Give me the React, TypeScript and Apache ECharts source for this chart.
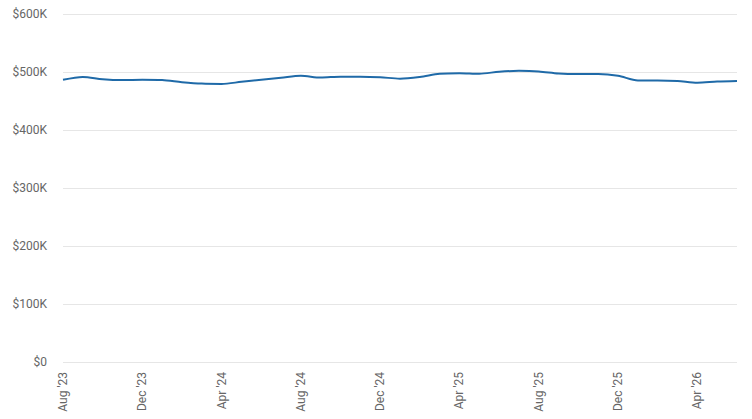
import React, { useEffect, useRef } from "react";
import * as echarts from "echarts";

const months = [
  "Aug '23", "Sep '23", "Oct '23", "Nov '23", "Dec '23",
  "Jan '24", "Feb '24", "Mar '24", "Apr '24", "May '24", "Jun '24", "Jul '24", "Aug '24",
  "Sep '24", "Oct '24", "Nov '24", "Dec '24",
  "Jan '25", "Feb '25", "Mar '25", "Apr '25", "May '25", "Jun '25", "Jul '25", "Aug '25",
  "Sep '25", "Oct '25", "Nov '25", "Dec '25",
  "Jan '26", "Feb '26", "Mar '26", "Apr '26", "May '26", "Jun '26",
];

const values = [
  486500, 491500, 487500, 486000, 486500,
  486000, 482500, 480000, 479500, 483000, 486500, 490000, 493500,
  490500, 492000, 492000, 491000,
  488500, 491500, 497000, 498000, 497000, 500500, 502000, 501000,
  497500, 496500, 496500, 493500,
  485500, 485500, 484500, 481500, 483500, 484500,
];

const yTicks = { min: 0, max: 600000, interval: 100000 };

export default function App() {
  const ref = useRef<HTMLDivElement>(null);
  useEffect(() => {
    if (!ref.current) return;
    const chart = echarts.init(ref.current, undefined, { renderer: "svg" });
    chart.setOption({
      animation: false,
      grid: { left: 63, right: 15, top: 14, bottom: 57 },
      xAxis: {
        type: "category",
        data: months,
        boundaryGap: false,
        axisLine: { show: false },
        axisTick: { show: false },
        axisLabel: {
          interval: 3,
          rotate: 90,
          color: "#666",
          fontFamily: "Roboto",
          fontSize: 12,
          margin: 10,
        },
        splitLine: { show: false },
      },
      yAxis: {
        type: "value",
        min: yTicks.min,
        max: yTicks.max,
        interval: yTicks.interval,
        axisLine: { show: false },
        axisTick: { show: false },
        axisLabel: {
          color: "#666",
          fontFamily: "Roboto",
          fontSize: 12,
          margin: 16,
          formatter: (v: number) => (v === 0 ? "$0" : `$${v / 1000}K`),
        },
        splitLine: { lineStyle: { color: "#e6e6e6", width: 1 } },
      },
      series: [
        {
          type: "line",
          data: values,
          smooth: 0.3,
          showSymbol: false,
          lineStyle: { color: "#1f6aa8", width: 2 },
          itemStyle: { color: "#1f6aa8" },
        },
      ],
    });
    return () => chart.dispose();
  }, []);
  return (
    <div
      ref={ref}
      style={{ position: "fixed", left: 0, top: 0, width: 752, height: 419, background: "#fff" }}
    />
  );
}
